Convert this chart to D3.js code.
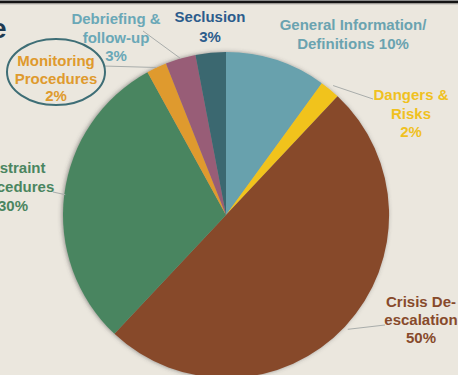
<!DOCTYPE html>
<html>
<head>
<meta charset="utf-8">
<script src="https://cdn.jsdelivr.net/npm/d3@7"></script>
<style>
  html, body { margin: 0; padding: 0; background: #ebe7de; }
  svg { display: block; }
  text { font-family: "Liberation Sans Narrow", "Arial Narrow", sans-serif; font-weight: bold; }
</style>
</head>
<body>
<svg id="chart" width="458" height="375"></svg>
<script>
// Topics covered, in clockwise order from 12 o'clock
const categories = [
  "General Information/ Definitions",
  "Dangers & Risks",
  "Crisis De-escalation",
  "Restraint Procedures",
  "Monitoring Procedures",
  "Debriefing & follow-up",
  "Seclusion"
];
const shares = [10, 2, 50, 30, 2, 3, 3];
const labelLines = [
  ["General Information/", "Definitions 10%"],
  ["Dangers &", "Risks", "2%"],
  ["Crisis De-", "escalation", "50%"],
  ["Restraint", "Procedures", "30%"],
  ["Monitoring", "Procedures", "2%"],
  ["Debriefing &", "follow-up", "3%"],
  ["Seclusion", "3%"]
];

const sliceColors = ["#68a1ad", "#f1c31d", "#874a2b", "#4a8560", "#df9a2d", "#985d77", "#3b6770"];
const labelColors = ["#6aa3b0", "#f0c11f", "#874a2b", "#4a8560", "#df9a2d", "#6aa8b7", "#2c5c8c"];

// label placement: centre x, first baseline y, line spacing, leader line (start radius, end point)
const layout = [
  { x: 353, y: 30, dy: 19, leader: null },
  { x: 411, y: 100, dy: 18.5, leader: { r: 168, end: [373, 99] } },
  { x: 421, y: 307, dy: 18, leader: { r: 167, end: [385, 325] } },
  { x: 13, y: 173, dy: 19, leader: { r: 162, end: [53, 192] } },
  { x: 56, y: 66, dy: 17.5, leader: { r: 163, end: [103, 66] } },
  { x: 116, y: 24, dy: 18.5, leader: { r: 163, end: [143, 31] } },
  { x: 210, y: 22, dy: 20, leader: null }
];

const svg = d3.select("#chart");
const W = 458, H = 375;
const cx = 226, cy = 215, R = 163;

svg.append("rect").attr("width", W).attr("height", H).attr("fill", "#ebe7de");

const defs = svg.append("defs");
const shadow = defs.append("filter").attr("id", "pieShadow")
  .attr("x", "-10%").attr("y", "-10%").attr("width", "120%").attr("height", "120%");
shadow.append("feDropShadow")
  .attr("dx", -1).attr("dy", 0).attr("stdDeviation", 2.2)
  .attr("flood-color", "#4a4a4a").attr("flood-opacity", 0.55);

// top rule
svg.append("rect").attr("x", 0).attr("y", 0).attr("width", W).attr("height", 1).attr("fill", "#8a8a8a");
svg.append("rect").attr("x", 0).attr("y", 1).attr("width", W).attr("height", 2.5).attr("fill", "#141414");
svg.append("rect").attr("x", 0).attr("y", 3.5).attr("width", W).attr("height", 1).attr("fill", "#b9b6b0");

// tail of the heading
svg.append("text").attr("x", 6.5).attr("y", 38)
  .attr("text-anchor", "end").attr("font-size", 28).attr("fill", "#1e3b52")
  .style("font-family", "'Liberation Sans', Arial, sans-serif")
  .text("e");

const pie = d3.pie().sort(null).value(d => d);
const arcs = pie(shares);
const arc = d3.arc().innerRadius(0).outerRadius(R);

const g = svg.append("g").attr("transform", `translate(${cx},${cy})`);
g.append("g").attr("filter", "url(#pieShadow)")
  .selectAll("path").data(arcs).join("path")
  .attr("d", arc)
  .attr("fill", (d, i) => sliceColors[i]);

// leader lines from each slice's mid-angle out to its label
arcs.forEach((a, i) => {
  const L = layout[i].leader;
  if (!L) return;
  const mid = (a.startAngle + a.endAngle) / 2;
  const sx = cx + L.r * Math.sin(mid);
  const sy = cy - L.r * Math.cos(mid);
  svg.append("line")
    .attr("x1", sx).attr("y1", sy)
    .attr("x2", L.end[0]).attr("y2", L.end[1])
    .attr("stroke", "#a9adab").attr("stroke-width", 1);
});

// outline around the monitoring label
svg.append("ellipse").attr("cx", 56).attr("cy", 72).attr("rx", 49).attr("ry", 33)
  .attr("fill", "none").attr("stroke", "#3e6e76").attr("stroke-width", 2);

// labels
labelLines.forEach((lines, i) => {
  const p = layout[i];
  const t = svg.append("text")
    .attr("text-anchor", "middle")
    .attr("font-size", 15)
    .attr("fill", labelColors[i]);
  lines.forEach((ln, j) => {
    t.append("tspan").attr("x", p.x).attr("y", p.y + j * p.dy).text(ln);
  });
});
</script>
</body>
</html>
